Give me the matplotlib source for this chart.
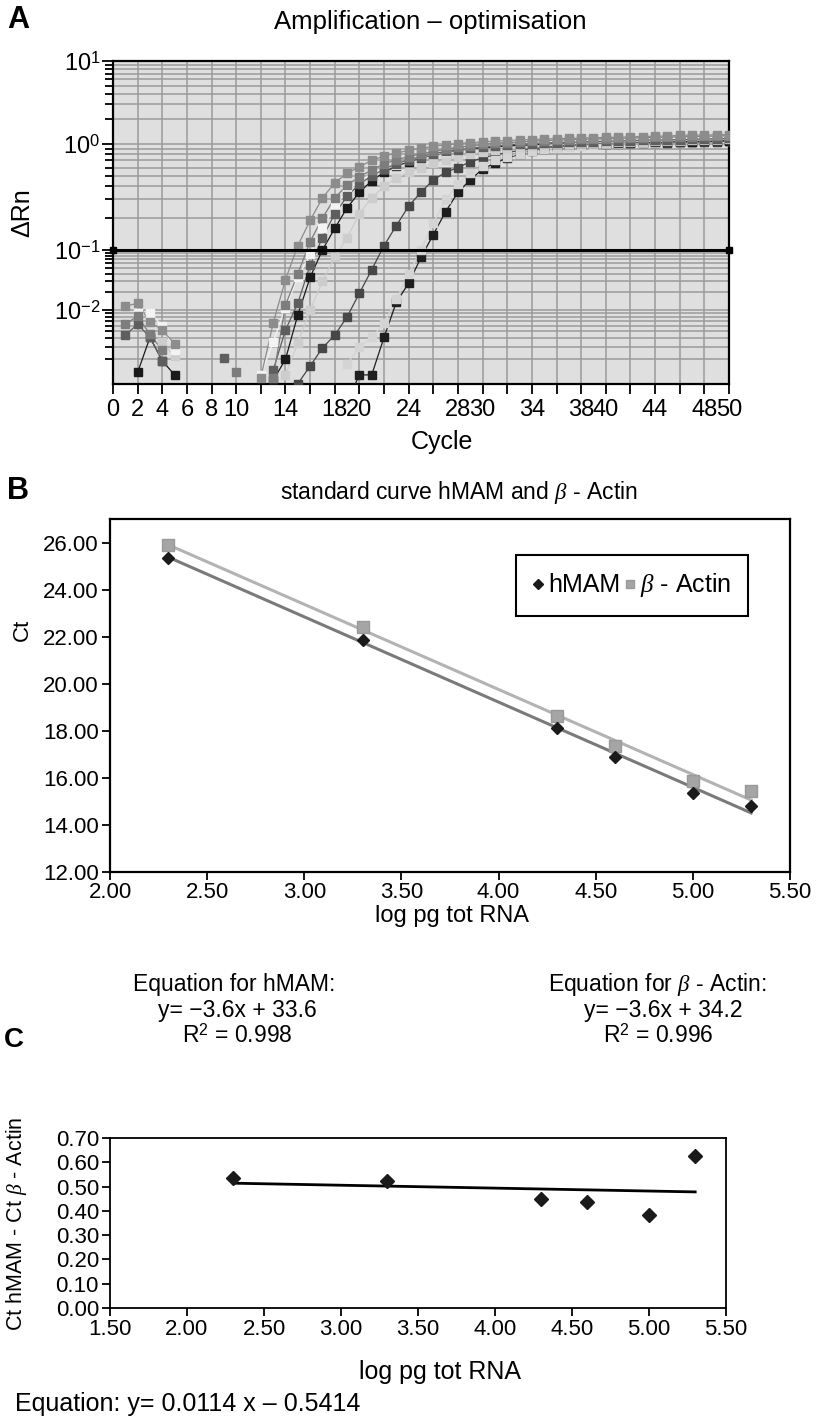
import numpy as np
import matplotlib
matplotlib.use("Agg")
import matplotlib.pyplot as plt
from matplotlib import font_manager

# ---------------- data ----------------
N = np.nan
cycles = list(range(1, 51))
threshold = 0.1

# amplification curves (ΔRn per cycle, NaN = not shown)
curve_b2 = [N, N, N, N, N, N, N, N, N, N,
            N, N, N, N, N, N, N, N, 0.0005, 0.0012,
            0.0012, 0.0041, 0.0135, 0.028, 0.075, 0.14, 0.23, 0.35, 0.46, 0.58,
            0.66, 0.74, 0.80, 0.86, 0.90, 0.93, 0.95, 0.97, 0.99, 1.00,
            1.01, 1.02, 1.03, 1.03, 1.04, 1.05, 1.06, 1.06, 1.07, 1.08]
curve_d1 = [N, N, N, N, N, N, N, N, N, N,
            N, N, N, N, 0.0009, 0.0016, 0.0029, 0.0044, 0.008, 0.019,
            0.047, 0.11, 0.17, 0.26, 0.35, 0.46, 0.54, 0.60, 0.68, 0.74,
            0.79, 0.83, 0.87, 0.90, 0.93, 0.95, 0.97, 0.99, 1.00, 1.01,
            1.02, 1.03, 1.04, 1.05, 1.06, 1.07, 1.07, 1.08, 1.09, 1.10]
curve_l3 = [N, N, N, N, N, N, N, N, N, N,
            N, N, N, N, N, N, N, N, 0.0017, 0.003,
            0.0041, 0.0065, 0.015, 0.04, 0.10, 0.18, 0.30, 0.42, 0.53, 0.62,
            0.70, 0.76, 0.81, 0.85, 0.89, 0.92, 0.94, 0.96, 0.98, 1.00,
            1.01, 1.02, 1.03, 1.04, 1.05, 1.06, 1.07, 1.08, 1.09, 1.10]
curve_b1 = [N, 0.0013, 0.0041, 0.0019, 0.0012, N, N, N, N, N,
            N, N, 0.001, 0.002, 0.0085, 0.035, 0.10, 0.16, 0.25, 0.35,
            0.45, 0.54, 0.62, 0.68, 0.74, 0.79, 0.83, 0.87, 0.90, 0.92,
            0.94, 0.96, 0.97, 0.98, 0.99, 1.00, 1.01, 1.02, 1.02, 1.03,
            1.04, 1.04, 1.05, 1.05, 1.06, 1.07, 1.07, 1.08, 1.09, 1.10]
curve_l2 = [N, N, N, 0.0035, 0.0022, N, N, N, N, N,
            N, N, N, 0.0012, 0.0034, 0.010, 0.030, 0.076, 0.13, 0.22,
            0.31, 0.40, 0.48, 0.54, 0.60, 0.66, 0.71, 0.76, 0.80, 0.84,
            0.87, 0.90, 0.93, 0.95, 0.97, 0.99, 1.00, 1.02, 1.03, 1.04,
            1.05, 1.06, 1.07, 1.08, 1.09, 1.10, 1.11, 1.12, 1.13, 1.14]
curve_w1 = [N, 0.009, 0.009, 0.006, 0.0027, N, N, N, N, N,
            N, 0.0012, 0.0035, 0.011, 0.035, 0.085, 0.16, 0.26, 0.36, 0.45,
            0.52, 0.58, 0.64, 0.70, 0.75, 0.80, 0.84, 0.88, 0.91, 0.94,
            0.97, 0.99, 1.01, 1.03, 1.05, 1.06, 1.07, 1.08, 1.09, 1.10,
            1.11, 1.12, 1.13, 1.14, 1.15, 1.15, 1.16, 1.17, 1.18, 1.19]
curve_dg = [0.0044, 0.0063, 0.0041, 0.0019, N, N, N, N, 0.0021, N,
            N, N, 0.0014, 0.0052, 0.013, 0.056, 0.13, 0.22, 0.32, 0.42,
            0.50, 0.58, 0.65, 0.71, 0.76, 0.81, 0.85, 0.88, 0.91, 0.94,
            0.96, 0.98, 1.00, 1.01, 1.03, 1.04, 1.05, 1.06, 1.07, 1.08,
            1.09, 1.10, 1.11, 1.12, 1.12, 1.13, 1.14, 1.15, 1.16, 1.17]
curve_g2 = [0.0063, 0.0082, 0.0045, 0.0027, N, N, N, N, N, 0.0013,
            N, N, 0.0011, 0.012, 0.04, 0.12, 0.20, 0.31, 0.41, 0.49,
            0.57, 0.65, 0.71, 0.76, 0.81, 0.85, 0.89, 0.93, 0.96, 0.99,
            1.02, 1.04, 1.06, 1.08, 1.10, 1.11, 1.13, 1.14, 1.15, 1.16,
            1.17, 1.18, 1.19, 1.20, 1.21, 1.22, 1.23, 1.24, 1.25, 1.26]
curve_g1 = [0.0115, 0.013, 0.0067, 0.0052, 0.0033, N, N, N, N, N,
            N, 0.0011, 0.0065, 0.032, 0.11, 0.19, 0.31, 0.43, 0.53, 0.61,
            0.70, 0.77, 0.82, 0.87, 0.91, 0.95, 0.98, 1.01, 1.04, 1.06,
            1.08, 1.10, 1.12, 1.13, 1.15, 1.16, 1.17, 1.18, 1.19, 1.20,
            1.21, 1.22, 1.23, 1.24, 1.25, 1.27, 1.28, 1.28, 1.29, 1.30]
curves = [curve_b2, curve_d1, curve_l3, curve_b1, curve_l2,
          curve_w1, curve_dg, curve_g2, curve_g1]
curve_colors = ["#1e1e1e", "#474747", "#d4d4d4", "#1a1a1a", "#cdcdcd",
                "#f3f3f3", "#5e5e5e", "#7d7d7d", "#8c8c8c"]

xtick_values_a = list(range(0, 51, 2))
xtick_labels_shown = [0, 2, 4, 6, 8, 10, 14, 18, 20, 24, 28, 30, 34, 38, 40, 44, 48, 50]

# standard curve
log_rna = [2.3, 3.3, 4.3, 4.6, 5.0, 5.3]
ct_hmam = [25.36, 21.87, 18.13, 16.90, 15.36, 14.80]
ct_actin = [25.90, 22.43, 18.64, 17.36, 15.87, 15.45]
delta_ct = [0.535, 0.523, 0.450, 0.435, 0.384, 0.625]

# ---------------- fonts ----------------
names = {f.name for f in font_manager.fontManager.ttflist}
SANS = "Liberation Sans"
NARROW = "Liberation Sans Narrow" if "Liberation Sans Narrow" in names else None
NFAM = NARROW if NARROW else SANS
NK = 1.15 if NARROW else 1.0

plt.rcParams["font.family"] = [SANS, "DejaVu Sans"]
plt.rcParams["mathtext.fontset"] = "custom"
plt.rcParams["mathtext.rm"] = SANS
plt.rcParams["mathtext.it"] = "Liberation Serif:italic"
plt.rcParams["mathtext.bf"] = SANS + ":bold"

W, H = 822, 1421
fig = plt.figure(figsize=(W / 100, H / 100), dpi=100)


def rect(l, t, r, b):
    return [l / W, 1 - b / H, (r - l) / W, (b - t) / H]


def ftxt(x, y, s, **kw):
    kw.setdefault("va", "center")
    kw.setdefault("ha", "center")
    fig.text(x / W, 1 - y / H, s, **kw)


# ---------------- panel A ----------------
LK = [-3.05, -2.0, -1.0, 0.0, 1.0]
PK = [0.0, 74.0, 134.0, 240.0, 323.0]


def _fwd(v):
    v = np.asarray(v, dtype=float)
    l = np.log10(np.clip(v, 1e-300, None))
    out = np.interp(l, LK, PK)
    out = np.where(l < LK[0], PK[0] + (l - LK[0]) * (PK[1] - PK[0]) / (LK[1] - LK[0]), out)
    out = np.where(l > LK[-1], PK[-1] + (l - LK[-1]) * (PK[-1] - PK[-2]) / (LK[-1] - LK[-2]), out)
    return out


def _inv(p):
    p = np.asarray(p, dtype=float)
    l = np.interp(p, PK, LK)
    l = np.where(p < PK[0], LK[0] + (p - PK[0]) * (LK[1] - LK[0]) / (PK[1] - PK[0]), l)
    l = np.where(p > PK[-1], LK[-1] + (p - PK[-1]) * (LK[-1] - LK[-2]) / (PK[-1] - PK[-2]), l)
    return 10.0 ** l


axA = fig.add_axes(rect(113, 61, 729, 384))
axA.set_facecolor("#dfdfdf")
axA.set_yscale("function", functions=(_fwd, _inv))
axA.set_xlim(0, 50)
axA.set_ylim(10 ** LK[0], 10)

for vals, col in zip(curves, curve_colors):
    axA.plot(cycles, vals, "-", color=col, lw=0.9, zorder=3)
    axA.plot(cycles, vals, "s", color=col, ms=5.2, mec=col, zorder=4)

axA.axhline(threshold, color="black", lw=2.2, zorder=5)
axA.plot([0, 50], [threshold, threshold], "s", color="black", ms=5, clip_on=False, zorder=6)

major_y = [0.01, 0.1, 1, 10]
axA.set_yticks(major_y)
axA.set_yticklabels([r"$10^{-2}$", r"$10^{-1}$", r"$10^{0}$", r"$10^{1}$"], fontsize=17)
minor_y = [k * 10.0 ** n for n in (-3, -2, -1, 0) for k in range(2, 10)]
minor_y = [m for m in minor_y if m > 10 ** LK[0]]
axA.set_yticks(minor_y, minor=True)
axA.set_xticks(xtick_values_a)
axA.set_xticklabels([str(v) if v in xtick_labels_shown else "" for v in xtick_values_a],
                    fontsize=17)
axA.grid(which="both", axis="y", color="#9a9a9a", lw=1.1, zorder=1)
axA.grid(which="major", axis="x", color="#9a9a9a", lw=1.1, zorder=1)
axA.set_axisbelow(True)
axA.tick_params(axis="x", which="major", length=7, width=1.3, pad=4)
axA.tick_params(axis="y", which="major", length=8, width=1.3, pad=1)
axA.tick_params(axis="y", which="minor", length=6, width=1.3)
for sp in axA.spines.values():
    sp.set_linewidth(1.6)
    sp.set_color("black")

ftxt(18, 20, "A", fontsize=22, fontweight="bold")
ftxt(430, 22, "Amplification \u2013 optimisation", fontsize=18.5)
ftxt(442, 442, "Cycle", fontsize=18)
ftxt(22, 213, "\u0394Rn", fontsize=18, rotation=90)

# ---------------- panel B ----------------
axB = fig.add_axes(rect(110, 519, 790, 872))
fit_h = np.polyfit(log_rna, ct_hmam, 1)
fit_a = np.polyfit(log_rna, ct_actin, 1)
xs = np.array([min(log_rna), max(log_rna)])
axB.plot(xs, np.polyval(fit_a, xs), color="#b3b3b3", lw=2.2, zorder=2)
axB.plot(xs, np.polyval(fit_h, xs), color="#7a7a7a", lw=2.2, zorder=2)
h_marker, = axB.plot(log_rna, ct_hmam, "D", color="#1a1a1a", ms=6.5, zorder=4)
a_marker, = axB.plot(log_rna, ct_actin, "s", color="#a5a5a5", mec="#999999", ms=8, zorder=3)
axB.set_xlim(2.0, 5.5)
axB.set_ylim(12, 27)
bx = np.arange(2.0, 5.51, 0.5)
by = np.arange(12, 26.01, 2)
axB.set_xticks(bx)
axB.set_yticks(by)
axB.set_xticklabels([f"{v:.2f}" for v in bx], fontsize=16)
axB.set_yticklabels([f"{v:.2f}" for v in by], fontsize=16)
axB.tick_params(axis="x", length=6, width=1.3, pad=1)
axB.tick_params(axis="y", length=6, width=1.3, pad=2)
for sp in axB.spines.values():
    sp.set_linewidth(1.6)
legB = axB.legend([h_marker, a_marker], ["hMAM", r"$\beta$ - Actin"],
                  ncol=2, loc="upper right", bbox_to_anchor=(0.938, 0.898),
                  borderaxespad=0, fontsize=18, frameon=True, fancybox=False,
                  edgecolor="black", framealpha=1, handlelength=0.5,
                  handletextpad=0.15, columnspacing=0.15, borderpad=0.65,
                  markerscale=0.75)
legB.get_frame().set_linewidth(1.5)

ftxt(18, 491, "B", fontsize=22, fontweight="bold")
ftxt(459, 492, r"standard curve hMAM and $\beta$ - Actin", fontsize=16.5)
ftxt(22, 630, "Ct", fontsize=16, rotation=90)
ftxt(452, 916, "log pg tot RNA", fontsize=17)

# equations
eq_fs = 16.5 * NK
ftxt(234, 985, "Equation for hMAM:", fontsize=eq_fs, family=NFAM)
ftxt(237, 1010, "y= \u22123.6x + 33.6", fontsize=eq_fs, family=NFAM)
ftxt(237, 1036, r"R$^{2}$ = 0.998", fontsize=eq_fs, family=NFAM)
ftxt(657, 985, r"Equation for $\beta$ - Actin:", fontsize=eq_fs, family=NFAM)
ftxt(663, 1010, "y= \u22123.6x + 34.2", fontsize=eq_fs, family=NFAM)
ftxt(658, 1036, r"R$^{2}$ = 0.996", fontsize=eq_fs, family=NFAM)

# ---------------- panel C ----------------
axC = fig.add_axes(rect(110, 1138, 726, 1308))
fit_d = np.polyfit(log_rna, delta_ct, 1)
axC.plot(xs, np.polyval(fit_d, xs), color="black", lw=2, zorder=2)
axC.plot(log_rna, delta_ct, "D", color="#1a1a1a", ms=7.5, zorder=3)
axC.set_xlim(1.5, 5.5)
axC.set_ylim(0, 0.7)
cx = np.arange(1.5, 5.51, 0.5)
cy = np.arange(0, 0.701, 0.1)
axC.set_xticks(cx)
axC.set_yticks(cy)
axC.set_xticklabels([f"{v:.2f}" for v in cx], fontsize=16 * NK, family=NFAM)
axC.set_yticklabels([f"{v:.2f}" for v in cy], fontsize=16 * NK, family=NFAM)
axC.tick_params(length=6, width=1.3, pad=2)
for sp in axC.spines.values():
    sp.set_linewidth(1.3)

ftxt(14, 1040, "C", fontsize=20, fontweight="bold", family=NFAM)
ftxt(17, 1224, r"Ct hMAM - Ct $\beta$ - Actin", fontsize=15.5 * NK, rotation=90, family=NFAM)
ftxt(440, 1372, "log pg tot RNA", fontsize=18 * NK, family=NFAM)
ftxt(15, 1404, "Equation: y= 0.0114 x \u2013 0.5414", fontsize=18 * NK, family=NFAM, ha="left")

fig.savefig("out.png", dpi=100)
